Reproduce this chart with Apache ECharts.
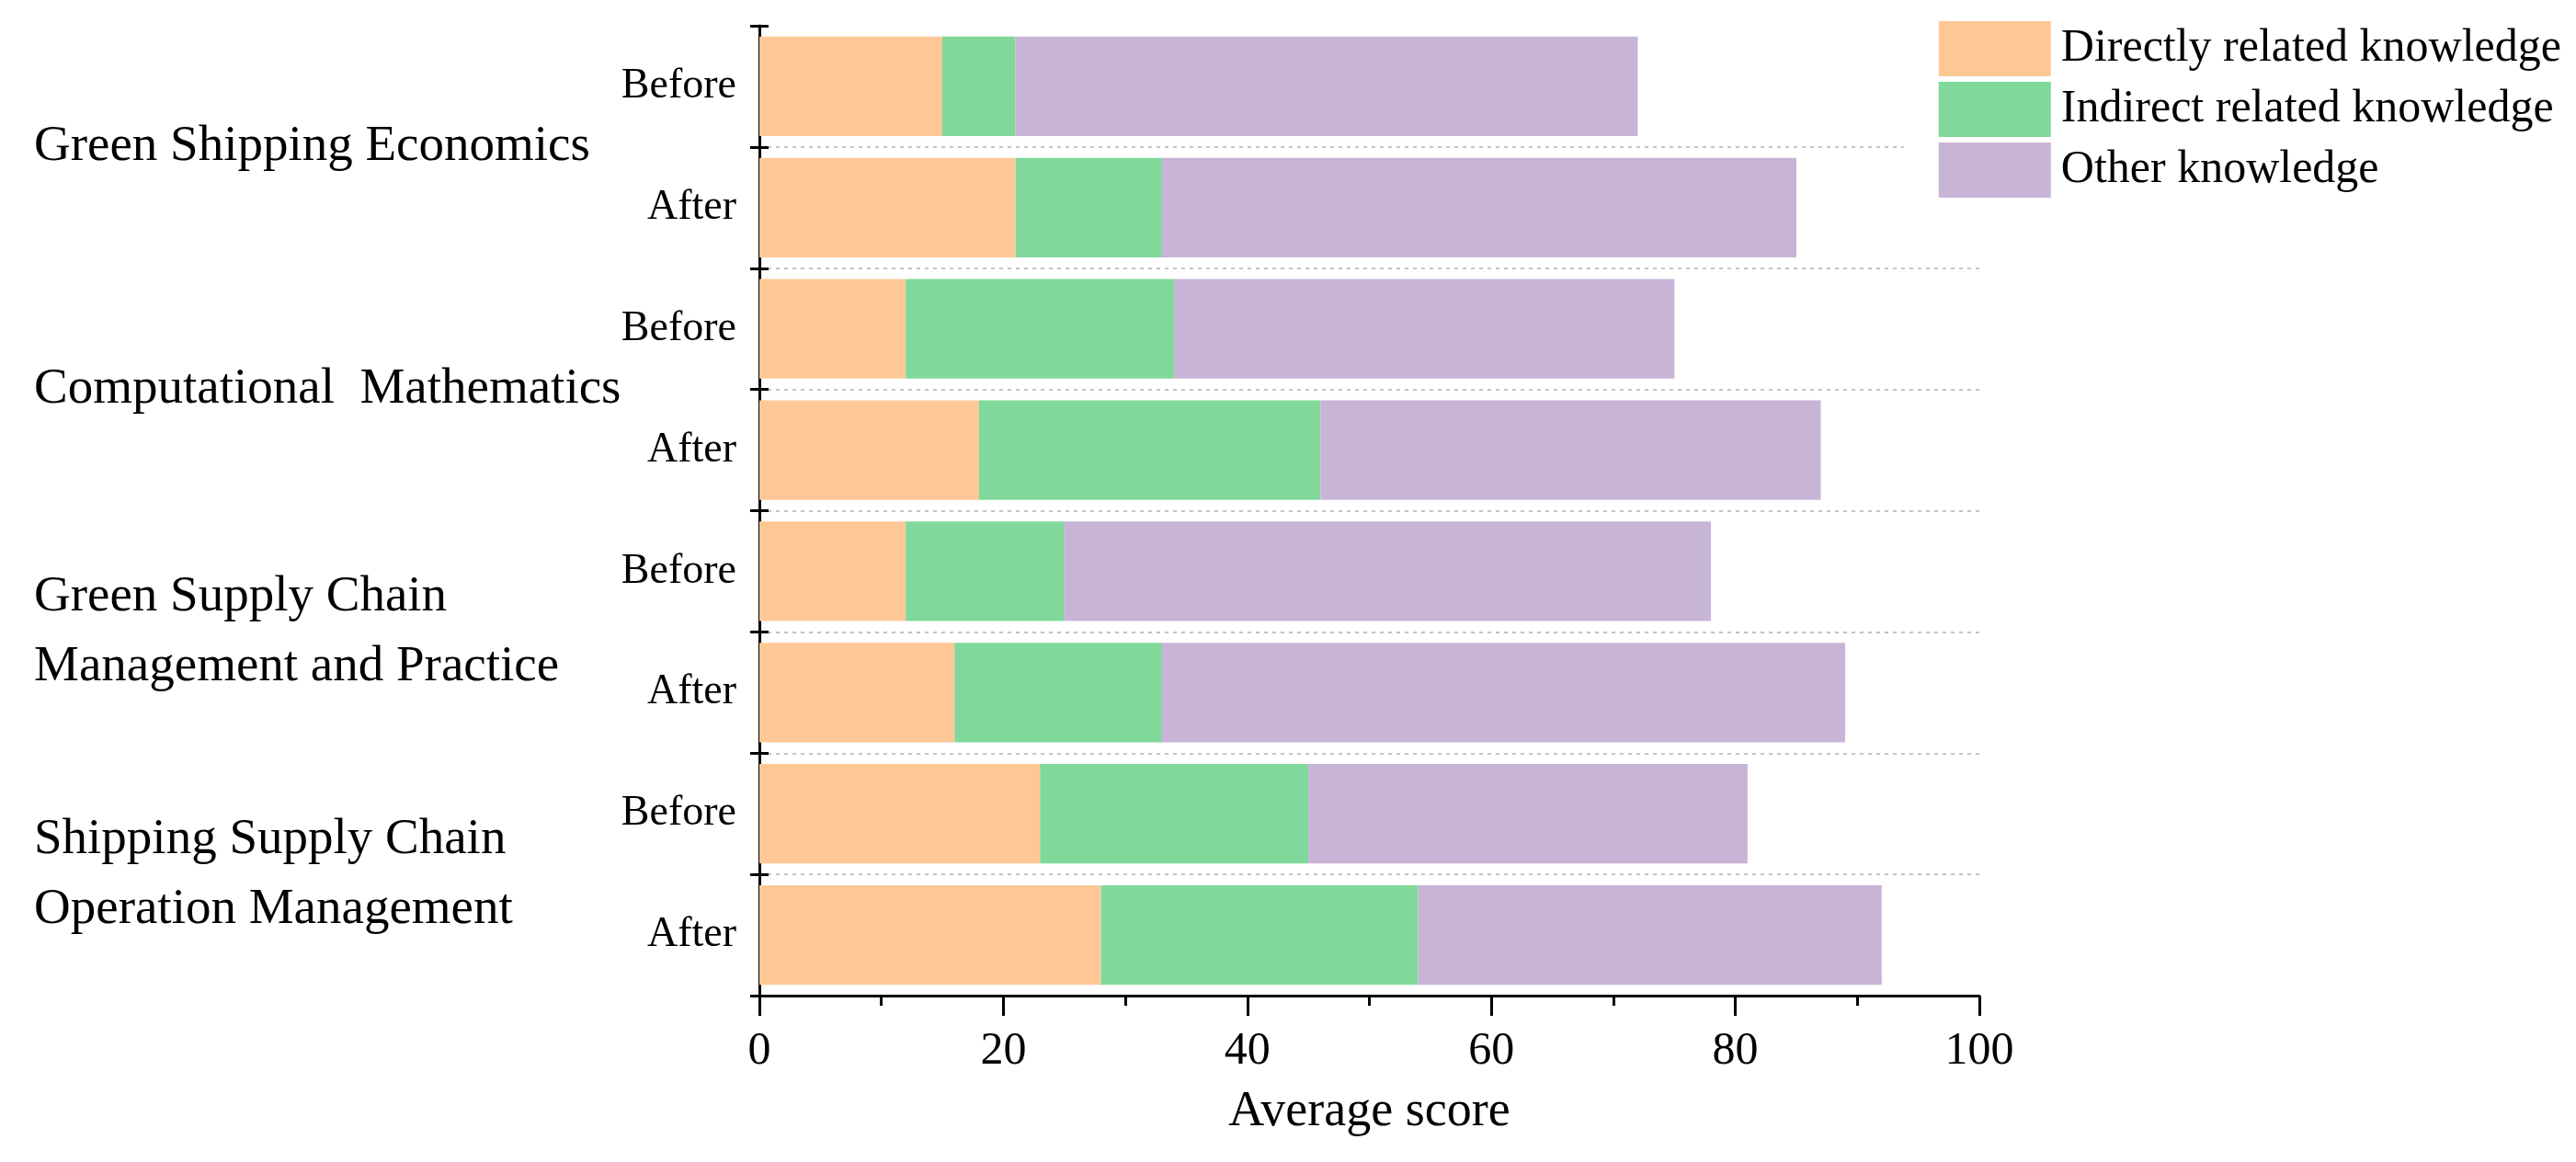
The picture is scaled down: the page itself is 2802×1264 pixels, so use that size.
<!DOCTYPE html>
<html>
<head>
<meta charset="utf-8">
<script src="https://cdn.jsdelivr.net/npm/echarts@6/dist/echarts.min.js"></script>
<style>html,body{margin:0;padding:0;background:#fff;}#c{width:2802px;height:1264px;}</style>
</head>
<body>
<div id="c"></div>
<script>
// ---- data ----
const groups = ['Green Shipping Economics', 'Computational  Mathematics', 'Green Supply Chain\nManagement and Practice', 'Shipping Supply Chain\nOperation Management'];
const phases = ['Before', 'After'];
const seriesNames = ['Directly related knowledge', 'Indirect related knowledge', 'Other knowledge'];
const directly = [15, 21, 12, 18, 12, 16, 23, 28];
const indirect = [6, 12, 22, 28, 13, 17, 22, 26];
const other = [51, 52, 41, 41, 53, 56, 36, 38];
const xMin = 0, xMax = 100, xInterval = 20;
const xName = 'Average score';

const colors = ['#FEC896', '#80D89A', '#C8B4D7'];
const FONT = '"Liberation Serif", "Times New Roman", serif';

const cats = [];
groups.forEach((g, i) => phases.forEach(p => cats.push(i + '|' + p)));

const chart = echarts.init(document.getElementById('c'), null, {renderer: 'canvas'});
const option = {
  animation: false,
  backgroundColor: '#fff',
  textStyle: {fontFamily: FONT, color: '#000'},
  grid: {left: 826, right: 649, top: 28, bottom: 181, containLabel: false},
  legend: {
    data: seriesNames,
    orient: 'vertical',
    right: 0,
    top: 23,
    padding: [0, 16, 0, 38],
    backgroundColor: '#fff',
    itemWidth: 122,
    itemHeight: 60,
    itemGap: 6,
    icon: 'rect',
    textStyle: {fontFamily: FONT, fontSize: 50, color: '#000', lineHeight: 56, padding: [0, 0, 0, 6]}
  },
  xAxis: {
    type: 'value',
    min: xMin, max: xMax, interval: xInterval,
    name: xName,
    nameLocation: 'middle',
    nameGap: 100,
    nameTextStyle: {fontFamily: FONT, fontSize: 54, color: '#000'},
    axisLine: {show: true, lineStyle: {color: '#000', width: 3}},
    axisTick: {show: true, length: 22, lineStyle: {color: '#000', width: 3}},
    minorTick: {show: true, splitNumber: 2, length: 11, lineStyle: {color: '#000', width: 3}},
    splitLine: {show: false},
    axisLabel: {fontFamily: FONT, fontSize: 50, color: '#000', margin: 36}
  },
  yAxis: [
    {
      type: 'category',
      data: cats,
      inverse: true,
      axisLine: {show: true, lineStyle: {color: '#000', width: 3}},
      axisTick: {show: true, length: 10, lineStyle: {color: '#000', width: 3}},
      splitLine: {show: true, showMinLine: false, lineStyle: {color: '#c4c4c4', width: 2, type: [4, 5]}},
      axisLabel: {fontFamily: FONT, fontSize: 46, color: '#000', margin: 25,
        formatter: v => v.split('|')[1]}
    },
    {
      type: 'category',
      data: groups,
      inverse: true,
      position: 'left',
      axisLine: {show: false},
      axisTick: {show: false},
      splitLine: {show: false},
      axisLabel: {fontFamily: FONT, fontSize: 55, color: '#000', align: 'left', margin: 789, lineHeight: 76}
    },
    {
      type: 'category',
      data: cats,
      inverse: true,
      position: 'left',
      axisLine: {show: false},
      axisTick: {show: true, inside: true, length: 10, lineStyle: {color: '#000', width: 3}},
      splitLine: {show: false},
      axisLabel: {show: false}
    }
  ],
  series: [directly, indirect, other].map((d, i) => ({
    name: seriesNames[i],
    type: 'bar',
    stack: 'total',
    yAxisIndex: 0,
    barCategoryGap: '18%',
    itemStyle: {color: colors[i]},
    data: d
  }))
};
chart.setOption(option);
</script>
</body>
</html>
